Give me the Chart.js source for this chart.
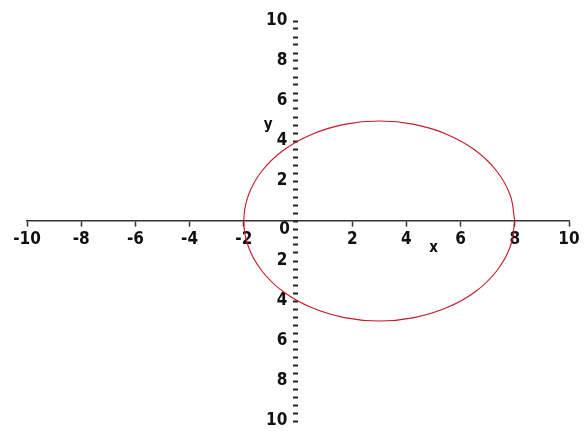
<!DOCTYPE html>
<html><head><meta charset="utf-8">
<script src="https://cdn.jsdelivr.net/npm/chart.js@4"></script>
<style>html,body{margin:0;padding:0;background:#fff;} #wrap{width:585px;height:433px;position:relative;}</style>
</head><body><div id="wrap"><canvas id="c"></canvas></div>
<script>
const circleX = [8, 7.83, 7.33, 6.54, 5.5, 4.29, 3, 1.71, 0.5, -0.54, -1.33, -1.83, -2, -1.83, -1.33, -0.54, 0.5, 1.71, 3, 4.29, 5.5, 6.54, 7.33, 7.83, 8];
const circleY = [0, 1.29, 2.5, 3.54, 4.33, 4.83, 5, 4.83, 4.33, 3.54, 2.5, 1.29, 0, -1.29, -2.5, -3.54, -4.33, -4.83, -5, -4.83, -4.33, -3.54, -2.5, -1.29, 0];
const xTicks = [-10, -8, -6, -4, -2, 2, 4, 6, 8, 10];
const yTicks = [10, 8, 6, 4, 2, -2, -4, -6, -8, -10];
const xRange = [-10, 10];
const yRange = [-10, 10];
const yMinorStep = 0.4;

const FONT = '"Liberation Sans Narrow", "DejaVu Sans Condensed", "Liberation Sans", sans-serif';
const isMajorY = v => yTicks.some(t => Math.abs(t - v) < 1e-6);

const extraText = {
  id: 'extraText',
  afterDraw(chart) {
    const {ctx, scales: {x, y}} = chart;
    ctx.save();
    ctx.fillStyle = '#111';
    ctx.font = 'bold 17px ' + FONT;
    ctx.textAlign = 'right';
    ctx.textBaseline = 'middle';
    ctx.fillText('0', x.getPixelForValue(0) - 8, y.getPixelForValue(0) + 9);
    ctx.font = 'bold 15px ' + FONT;
    ctx.textAlign = 'center';
    ctx.fillText('x', x.getPixelForValue(5), y.getPixelForValue(0) + 27);
    ctx.fillText('y', x.getPixelForValue(-1.1), y.getPixelForValue(4.8));
    ctx.restore();
  }
};

new Chart(document.getElementById('c'), {
  type: 'scatter',
  data: {
    datasets: [{
      data: circleX.map((v, i) => ({x: v, y: circleY[i]})),
      showLine: true,
      tension: 0.4,
      borderColor: 'rgb(195,25,40)',
      borderWidth: 1.1,
      pointRadius: 0,
      fill: false
    }]
  },
  options: {
    responsive: true,
    maintainAspectRatio: false,
    animation: false,
    layout: {padding: {left: 27, right: 16, top: 21, bottom: 12}},
    plugins: {legend: {display: false}, tooltip: {enabled: false}},
    scales: {
      x: {
        type: 'linear',
        min: xRange[0], max: xRange[1],
        position: {y: 0},
        afterFit: s => { s.height = 0; s.paddingLeft = 0; s.paddingRight = 0; },
        afterBuildTicks: s => { s.ticks = xTicks.map(v => ({value: v})); },
        grid: {drawOnChartArea: false, drawTicks: true, tickLength: 5, tickWidth: 1.5, tickColor: '#333'},
        border: {display: true, color: '#333', width: 1.6},
        ticks: {
          color: '#111', padding: 3, maxRotation: 0, autoSkip: false,
          font: {family: FONT, weight: 'bold', size: 17},
          callback: v => String(v)
        }
      },
      y: {
        type: 'linear',
        min: yRange[0], max: yRange[1],
        position: {x: 0},
        afterFit: s => { s.width = 0; s.paddingTop = 0; s.paddingBottom = 0; },
        grid: {drawOnChartArea: false, drawTicks: true, tickLength: 5, tickWidth: 2, tickColor: '#222'},
        border: {display: false},
        ticks: {
          stepSize: yMinorStep, color: '#111', padding: 0, autoSkip: false,
          font: {family: FONT, weight: 'bold', size: 17},
          callback: v => isMajorY(v) ? String(Math.abs(Math.round(v))) + '  ' : ''
        }
      }
    }
  },
  plugins: [extraText]
});
</script>
</body></html>
